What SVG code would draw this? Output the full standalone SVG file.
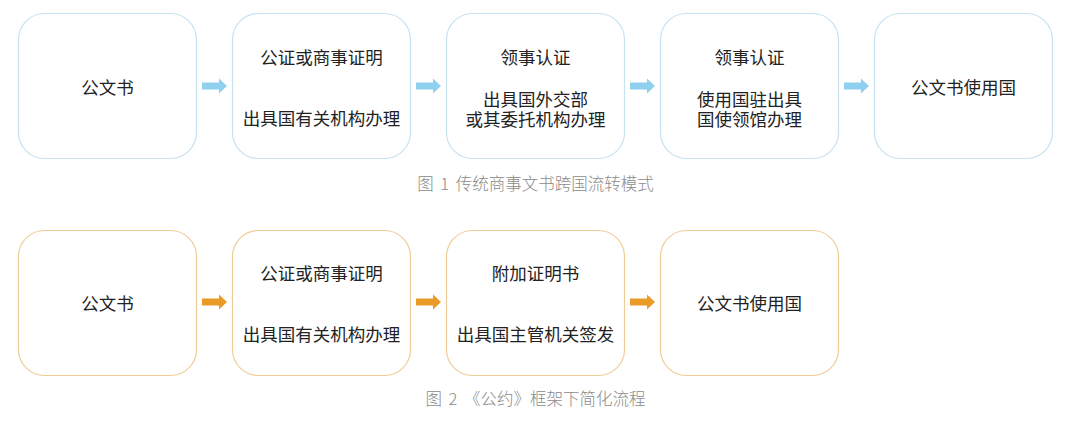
<svg xmlns="http://www.w3.org/2000/svg" width="1080" height="434" viewBox="0 0 1080 434">
<style>
.bb{fill:#fff;stroke:#c6e2f1;stroke-width:1.2}
.ob{fill:#fff;stroke:#f0cd98;stroke-width:1.2}
.t{font-family:"Noto Sans CJK SC","Noto Sans",sans-serif;font-size:17.5px;fill:#222;text-anchor:middle;dominant-baseline:central}
.cap{font-family:"Noto Sans CJK SC","Noto Sans",sans-serif;font-size:16.5px;fill:#8a8a8a;font-weight:300;text-anchor:middle;dominant-baseline:central;word-spacing:3px}
.ba{fill:#8fd0ef}
.oa{fill:#ea9a26}
</style>
<defs>
<path id="arr" d="M0,-3.5 H17 V-7.5 L25,0 L17,7.5 V3.5 H0 Z"/>
</defs>
<rect width="1080" height="434" fill="#fff"/>
<g id="r1n1"><rect class="bb" x="18.5" y="13.5" width="178" height="145" rx="26"/><text class="t" x="107.5" y="86">公文书</text></g>
<g id="r1n2"><rect class="bb" x="232.5" y="13.5" width="178" height="145" rx="26"/><text class="t" x="321.5" y="56">公证或商事证明</text><text class="t" x="321.5" y="117">出具国有关机构办理</text></g>
<g id="r1n3"><rect class="bb" x="446.5" y="13.5" width="178" height="145" rx="26"/><text class="t" x="535.5" y="56">领事认证</text><text class="t"><tspan x="535.5" y="97.5">出具国外交部</tspan><tspan x="535.5" y="117.5">或其委托机构办理</tspan></text></g>
<g id="r1n4"><rect class="bb" x="660.5" y="13.5" width="178" height="145" rx="26"/><text class="t" x="749.5" y="56">领事认证</text><text class="t"><tspan x="749.5" y="97.5">使用国驻出具</tspan><tspan x="749.5" y="117.5">国使领馆办理</tspan></text></g>
<g id="r1n5"><rect class="bb" x="874.5" y="13.5" width="178" height="145" rx="26"/><text class="t" x="963.5" y="86">公文书使用国</text></g>
<text class="cap" x="535.5" y="183">图 1 传统商事文书跨国流转模式</text>
<g id="r2n1"><rect class="ob" x="18.5" y="230.5" width="178" height="145" rx="26"/><text class="t" x="107.5" y="302">公文书</text></g>
<g id="r2n2"><rect class="ob" x="232.5" y="230.5" width="178" height="145" rx="26"/><text class="t" x="321.5" y="272">公证或商事证明</text><text class="t" x="321.5" y="333">出具国有关机构办理</text></g>
<g id="r2n3"><rect class="ob" x="446.5" y="230.5" width="178" height="145" rx="26"/><text class="t" x="535.5" y="272">附加证明书</text><text class="t" x="535.5" y="333">出具国主管机关签发</text></g>
<g id="r2n4"><rect class="ob" x="660.5" y="230.5" width="178" height="145" rx="26"/><text class="t" x="749.5" y="302">公文书使用国</text></g>
<text class="cap" x="535.5" y="398">图 2 《公约》框架下简化流程</text>
<g id="connectors">
<use href="#arr" class="ba" x="202" y="86"/>
<use href="#arr" class="ba" x="416" y="86"/>
<use href="#arr" class="ba" x="630" y="86"/>
<use href="#arr" class="ba" x="844" y="86"/>
<use href="#arr" class="oa" x="202" y="302"/>
<use href="#arr" class="oa" x="416" y="302"/>
<use href="#arr" class="oa" x="630" y="302"/>
</g>
</svg>
